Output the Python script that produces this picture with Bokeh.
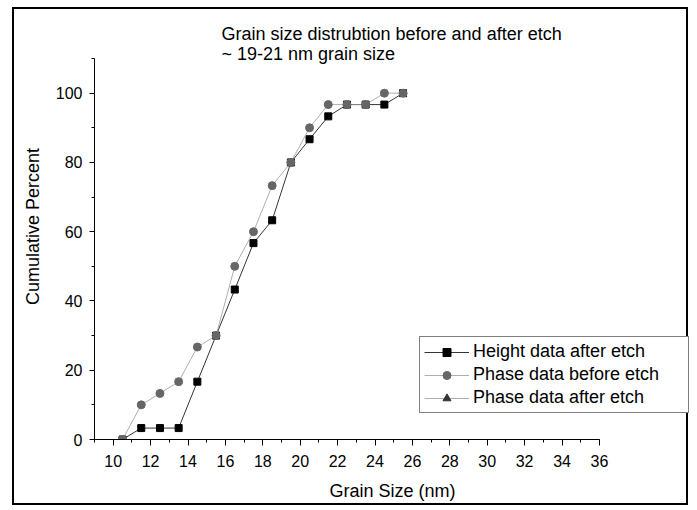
from bokeh.plotting import figure
from bokeh.models import (SingleIntervalTicker, Range1d, Legend, LegendItem,
                          Label, ColumnDataSource)
from bokeh.embed import file_html
from bokeh.resources import INLINE

nan = float("nan")

# ---- data ----
grain_size = [10.5, 11.5, 12.5, 13.5, 14.5, 15.5, 16.5, 17.5,
              18.5, 19.5, 20.5, 21.5, 22.5, 23.5, 24.5, 25.5]
height_after = [0.0, 3.3, 3.3, 3.3, 16.7, 30.0, 43.3, 56.7,
                63.3, 80.0, 86.7, 93.3, 96.7, 96.7, 96.7, 100.0]
phase_before = [0.0, 10.0, 13.3, 16.7, 26.7, 30.0, 50.0, 60.0,
                73.3, 80.0, 90.0, 96.7, 96.7, 96.7, 100.0, 100.0]
# the third series has no visible points in the reference
phase_after_x = [nan]
phase_after_y = [nan]

series_names = ["Height data after etch", "Phase data before etch",
                "Phase data after etch"]
title_lines = ["Grain size distrubtion before and after etch",
               "~ 19-21 nm grain size"]

FONT = "Liberation Sans"

W, H = 676, 498
p = figure(width=W, height=H, x_range=Range1d(9, 40.87), y_range=Range1d(0, 123.0),
           output_backend="svg", toolbar_location=None,
           min_border_left=80, min_border_right=0,
           min_border_top=4, min_border_bottom=68)
p.styles = {"border": "2px solid black", "margin-left": "12px", "margin-top": "7px"}
p.grid.visible = False
p.outline_line_color = None
p.background_fill_color = "white"
p.border_fill_color = "white"

# axes
p.xaxis.ticker = SingleIntervalTicker(interval=2, num_minor_ticks=2)
p.yaxis.ticker = SingleIntervalTicker(interval=20, num_minor_ticks=2)
p.xaxis.bounds = (9, 36)
p.yaxis.bounds = (0, 110)
for ax in (p.xaxis[0], p.yaxis[0]):
    ax.axis_line_color = "black"
    ax.axis_line_width = 1
    ax.major_tick_line_color = "black"
    ax.minor_tick_line_color = "black"
    ax.major_tick_in = 0
    ax.minor_tick_in = 0
    ax.major_label_text_font = FONT
    ax.major_label_text_font_size = "16px"
    ax.major_label_text_color = "black"
    ax.axis_label_text_font = FONT
    ax.axis_label_text_font_size = "18px"
    ax.axis_label_text_font_style = "normal"
    ax.axis_label_text_color = "black"
p.xaxis.major_tick_out = 6
p.xaxis.minor_tick_out = 3
p.yaxis.major_tick_out = 5
p.yaxis.minor_tick_out = 3
p.xaxis.major_label_standoff = 9
p.yaxis.major_label_standoff = 7
p.xaxis.axis_label = "Grain Size (nm)"
p.yaxis.axis_label = "Cumulative Percent"
p.xaxis.axis_label_standoff = 11
p.yaxis.axis_label_standoff = 10

src_h = ColumnDataSource(data=dict(x=grain_size, y=height_after))
src_pb = ColumnDataSource(data=dict(x=grain_size, y=phase_before))
src_pa = ColumnDataSource(data=dict(x=phase_after_x, y=phase_after_y))

l1 = p.line("x", "y", source=src_h, line_color="black", line_width=0.8)
s1 = p.scatter("x", "y", source=src_h, marker="square", size=7,
               fill_color="black", line_color="black")
l2 = p.line("x", "y", source=src_pb, line_color="#9a9a9a", line_width=0.8)
s2 = p.scatter("x", "y", source=src_pb, marker="circle", size=8,
               fill_color="#666666", line_color="#666666")
l3 = p.line("x", "y", source=src_pa, line_color="#9a9a9a", line_width=0.8)
s3 = p.scatter("x", "y", source=src_pa, marker="triangle", size=8,
               fill_color="#333333", line_color="#333333")

legend = Legend(items=[
    LegendItem(label=series_names[0], renderers=[l1, s1]),
    LegendItem(label=series_names[1], renderers=[l2, s2]),
    LegendItem(label=series_names[2], renderers=[l3, s3]),
], location=(325, 26))
legend.border_line_color = "black"
legend.border_line_width = 1
legend.background_fill_color = "white"
legend.background_fill_alpha = 1
legend.label_text_font = FONT
legend.label_text_font_size = "18px"
legend.label_text_color = "black"
legend.padding = 4
legend.spacing = 2
legend.margin = 0
legend.glyph_width = 45
legend.glyph_height = 20
legend.label_height = 20
legend.label_width = 211
legend.label_standoff = 4
p.add_layout(legend)

p.add_layout(Label(x=15.79, y=117.2, text=title_lines[0], text_font=FONT,
                   text_font_size="18px", text_baseline="middle", text_color="black"))
p.add_layout(Label(x=15.79, y=111.2, text=title_lines[1], text_font=FONT,
                   text_font_size="18px", text_baseline="middle", text_color="black"))

open("out.html", "w").write(file_html(p, INLINE))
